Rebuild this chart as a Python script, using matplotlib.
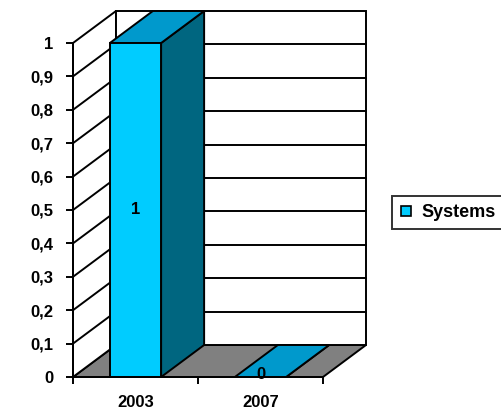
import numpy as np
import matplotlib
matplotlib.use("Agg")
import matplotlib.pyplot as plt
from matplotlib.patches import Polygon
from matplotlib.lines import Line2D

plt.rcParams["font.family"] = ["Liberation Sans", "DejaVu Sans"]
plt.rcParams["font.weight"] = "bold"

# data
years = ["2003", "2007"]
systems = [1, 0]
y_ticks = [0, 0.1, 0.2, 0.3, 0.4, 0.5, 0.6, 0.7, 0.8, 0.9, 1]
y_tick_labels = ["0", "0,1", "0,2", "0,3", "0,4", "0,5", "0,6", "0,7", "0,8", "0,9", "1"]
series_name = "Systems"

FRONT = "#00ccff"
TOP = "#0099cc"
SIDE = "#006680"
FLOOR = "#808080"
LW = 1.4
FS = 12

W, H = 501, 409
fig = plt.figure(figsize=(W / 100, H / 100), dpi=100)
ax = fig.add_axes([73 / W, 32 / H, 250 / W, 334 / H])
ax.set_xlim(-0.5, len(years) - 0.5)
ax.set_ylim(0, 1)

# depth of the 3d box, in pixels -> data units
p0 = ax.transData.transform((0, 0))
dx, dy = ax.transData.inverted().transform(p0 + np.array([43, 32])) - np.array([0, 0])

xl, xr = ax.get_xlim()


def face(pts, color, z):
    ax.add_patch(Polygon(pts, closed=True, facecolor=color, edgecolor="black",
                         linewidth=LW, clip_on=False, zorder=z, joinstyle="miter"))


# walls and floor
face([(xl, 0), (xr, 0), (xr + dx, dy), (xl + dx, dy)], FLOOR, 1)
face([(xl, 0), (xl + dx, dy), (xl + dx, 1 + dy), (xl, 1)], "white", 1)
face([(xl + dx, dy), (xr + dx, dy), (xr + dx, 1 + dy), (xl + dx, 1 + dy)], "white", 1)
for t in y_ticks[1:-1]:
    ax.plot([xl, xl + dx], [t, t + dy], color="black", lw=LW, clip_on=False, zorder=2)
    ax.plot([xl + dx, xr + dx], [t + dy, t + dy], color="black", lw=LW, clip_on=False, zorder=2)

# bars
w = 0.41
for i, v in enumerate(systems):
    x0, x1 = i - w / 2, i + w / 2
    face([(x1, 0), (x1 + dx, dy), (x1 + dx, v + dy), (x1, v)], SIDE, 3)
    face([(x0, v), (x1, v), (x1 + dx, v + dy), (x0 + dx, v + dy)], TOP, 3)
    face([(x0, 0), (x1, 0), (x1, v), (x0, v)], FRONT, 4)
    ax.text(i, v / 2 + (0.006 if v == 0 else 0), str(v), ha="center", va="center",
            fontsize=FS, fontweight="bold", zorder=5)

# axes
for s in ["top", "right"]:
    ax.spines[s].set_visible(False)
for s in ["left", "bottom"]:
    ax.spines[s].set_linewidth(LW)
    ax.spines[s].set_zorder(6)
ax.set_facecolor("none")
ax.set_yticks(y_ticks)
ax.set_yticklabels(y_tick_labels, fontsize=FS, fontweight="bold")
ax.set_xticks([xl + k for k in range(len(years) + 1)])
ax.set_xticklabels([])
ax.set_xticks(range(len(years)), minor=True)
ax.set_xticklabels(years, minor=True, fontsize=FS, fontweight="bold")
ax.tick_params(axis="both", which="major", length=5, width=LW, direction="out")
ax.tick_params(axis="y", pad=9)
ax.tick_params(axis="x", which="minor", length=0, pad=13)

# legend
handle = Line2D([], [], linestyle="none", marker="s", markersize=7,
                markerfacecolor=FRONT, markeredgecolor="black", markeredgewidth=1.2)
leg = fig.legend([handle], [series_name], loc="center left",
                 bbox_to_anchor=(392 / W, 1 - 212.5 / H), frameon=True, fancybox=False,
                 edgecolor="black", prop={"size": FS + 1, "weight": "bold"},
                 handlelength=0.7, handletextpad=0.5, borderpad=0.45, borderaxespad=0)
leg.get_frame().set_linewidth(LW)

fig.savefig("out.png", dpi=100)
